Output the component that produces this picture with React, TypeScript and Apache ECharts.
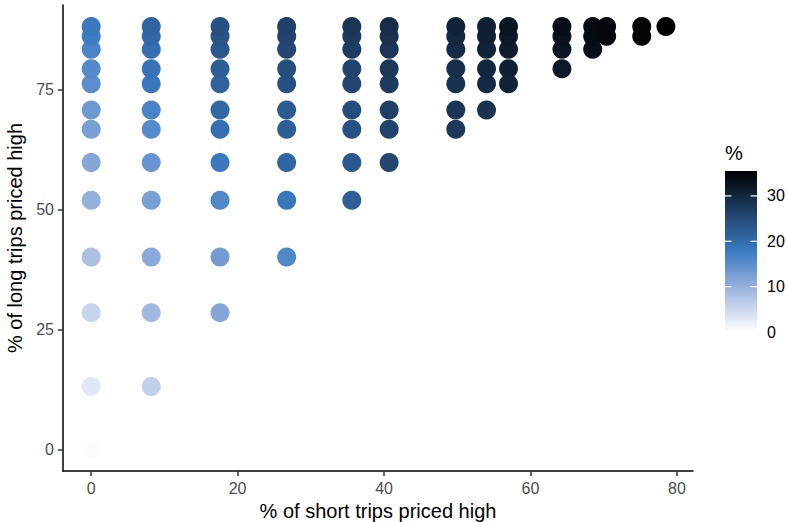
import React, { useEffect, useRef } from "react";
import * as echarts from "echarts";

// % of short trips priced high (x columns)
const shortTripsHigh = [0, 8.2, 17.6, 26.7, 35.6, 40.7, 49.8, 54.0, 57.0, 64.3, 68.5, 70.4, 75.2, 78.5];
// % of long trips priced high (y rows)
const longTripsHigh = [0, 13.2, 28.6, 40.2, 52.0, 59.9, 66.8, 70.8, 76.3, 79.4, 83.5, 86.2, 88.2];
// first row index present in each column
const firstRowIndex = [0, 1, 2, 3, 4, 5, 6, 7, 8, 9, 10, 11, 11, 12];
// "%" colour values per column, bottom row upward
const pctByColumn = [
  [0.4, 3, 5.5, 8, 10, 11.5, 12.5, 13.5, 15, 15.5, 16.5, 17.5, 18],
  [6, 9, 11, 12.5, 14, 15.5, 16.5, 18, 19, 19.5, 20.5, 21],
  [11.5, 13, 16, 18, 19.5, 20.5, 21.5, 22, 23, 23.5, 24],
  [16, 18.5, 21, 22, 22.5, 24, 24.5, 25.5, 26, 26.5],
  [22, 23, 24, 24.5, 25.5, 26, 27, 27.5, 28],
  [25.5, 26, 26.5, 27, 27.5, 28, 28.5, 29],
  [27.5, 28, 28.5, 29, 29.5, 30, 30.5],
  [28.5, 29.5, 30, 30.5, 31, 31],
  [30.5, 31, 31.5, 32, 32.5],
  [32, 32.5, 33, 33.5],
  [33.5, 34, 34],
  [34.5, 34.5],
  [35, 35],
  [35.5],
];
const xTicks = [0, 20, 40, 60, 80];
const yTicks = [0, 25, 50, 75];
const legendTicks = [0, 10, 20, 30];
const colorMin = 0;
const colorMax = 35.5;
const colorStops = ["#ffffff", "#a3b9e0", "#3b7bc3", "#1f3f66", "#000000"];

const FONT = "Liberation Sans, Arial, Helvetica, sans-serif";

export default function App() {
  const ref = useRef<HTMLDivElement>(null);
  useEffect(() => {
    if (!ref.current) return;
    const chart = echarts.init(ref.current, null, { renderer: "svg" });

    const points: number[][] = [];
    shortTripsHigh.forEach((x, ci) => {
      pctByColumn[ci].forEach((v, k) => {
        points.push([x, longTripsHigh[firstRowIndex[ci] + k], v]);
      });
    });

    // legend geometry
    const barX = 725;
    const barTop = 171;
    const barW = 32;
    const barH = 161;
    const yOf = (v: number) => barTop + barH - ((v - colorMin) / (colorMax - colorMin)) * barH;
    const legendEls: any[] = [
      {
        type: "text",
        left: barX,
        top: 143,
        style: { text: "%", font: `20px ${FONT}`, fill: "#000" },
      },
      {
        type: "rect",
        shape: { x: barX, y: barTop, width: barW, height: barH },
        style: {
          fill: new echarts.graphic.LinearGradient(
            0, 1, 0, 0,
            colorStops.map((c, i) => ({ offset: i / (colorStops.length - 1), color: c }))
          ),
        },
      },
    ];
    legendTicks.forEach((v) => {
      const y = yOf(v);
      if (v > colorMin) {
        legendEls.push({
          type: "line",
          shape: { x1: barX, y1: y, x2: barX + 6.5, y2: y },
          style: { stroke: "#ffffff", lineWidth: 1.2 },
        });
        legendEls.push({
          type: "line",
          shape: { x1: barX + barW - 6.5, y1: y, x2: barX + barW, y2: y },
          style: { stroke: "#ffffff", lineWidth: 1.2 },
        });
      }
      legendEls.push({
        type: "text",
        x: barX + barW + 10,
        y: y,
        style: {
          text: String(v),
          font: `16px ${FONT}`,
          fill: "#000",
          verticalAlign: "middle",
          align: "left",
        },
      });
    });

    chart.setOption({
      animation: false,
      backgroundColor: "#ffffff",
      grid: { left: 63, right: 95, top: 5, bottom: 51, containLabel: false, outerBoundsMode: "none" },
      xAxis: {
        type: "value",
        min: -3.85,
        max: 82.2,
        name: "% of short trips priced high",
        nameLocation: "middle",
        nameGap: 29,
        nameTextStyle: { fontFamily: FONT, fontSize: 20, color: "#000" },
        axisLine: { show: true, onZero: false, lineStyle: { color: "#000", width: 1.5 } },
        axisTick: { show: true, length: 5, customValues: xTicks, lineStyle: { color: "#333", width: 1.5 } },
        axisLabel: { customValues: xTicks, margin: 9, fontFamily: FONT, fontSize: 16, color: "#4d4d4d" },
        splitLine: { show: false },
      },
      yAxis: {
        type: "value",
        min: -4.4,
        max: 92.7,
        name: "% of long trips priced high",
        nameLocation: "middle",
        nameGap: 32,
        nameTextStyle: { fontFamily: FONT, fontSize: 20, color: "#000" },
        axisLine: { show: true, onZero: false, lineStyle: { color: "#000", width: 1.5 } },
        axisTick: { show: true, length: 5, customValues: yTicks, lineStyle: { color: "#333", width: 1.5 } },
        axisLabel: { customValues: yTicks, margin: 9, fontFamily: FONT, fontSize: 16, color: "#4d4d4d" },
        splitLine: { show: false },
      },
      visualMap: {
        type: "continuous",
        show: false,
        min: colorMin,
        max: colorMax,
        dimension: 2,
        inRange: { color: colorStops },
      },
      series: [
        {
          type: "scatter",
          data: points,
          symbol: "circle",
          symbolSize: 19,
          itemStyle: { opacity: 1 },
          emphasis: { disabled: true },
        },
      ],
      graphic: legendEls,
    });
    return () => chart.dispose();
  }, []);
  return <div ref={ref} style={{ width: 788, height: 522, position: "absolute", left: 0, top: 0 }} />;
}
